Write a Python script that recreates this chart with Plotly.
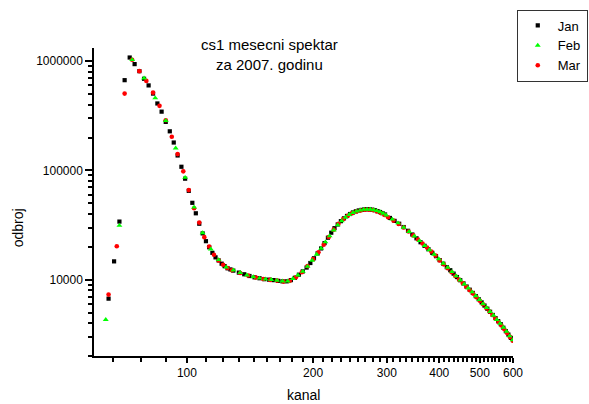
import math
import plotly.graph_objects as go

# Monthly cs1 spectra for 2007: channel ("kanal") vs. counts ("odbroj")

jan_kanal = (list(range(65, 130, 2)) + list(range(133, 298, 4)) + list(range(305, 598, 8)))
jan_odbroj = [
    6700, 14700, 34000, 670000, 1080000, 940000, 810000, 690000, 600000, 505000,
    410000, 345000, 278000, 228000, 180000, 137000, 108000, 84000, 65000, 50500,
    40500, 32500, 26500, 22500, 19800, 17600, 16000, 15000, 14000, 13300,
    12700, 12400, 12100,
    11600, 11200, 10800, 10500, 10300, 10100, 10000, 9900, 9750, 9650,
    9650, 9900, 10400, 11100, 11900, 12900, 14200, 15700, 17400, 19300,
    21600, 24200, 26900, 29600, 32000, 34300, 36400, 38300, 39900, 41200,
    42200, 43000, 43500, 43900, 44100, 44000, 43700, 43200, 42400, 41600,
    40600, 39500,
    36700, 34500, 32500, 30300, 28000, 25900, 23900, 22000, 20400, 19000,
    17600, 16400, 15100, 14000, 13000, 12200, 11350, 10560, 9880, 9240,
    8640, 8090, 7560, 7070, 6620, 6190, 5790, 5420, 5080, 4750,
    4450, 4170, 3910, 3630, 3370, 3140, 2930,
]

feb_kanal = (list(range(64, 130, 5)) + list(range(134, 300, 5)) + list(range(309, 600, 10)))
feb_odbroj = [
    4300, 31300, 1030000, 700000, 460000, 285000, 160000, 86000, 46000, 26800,
    19000, 15200, 13000, 12200,
    11600, 11000, 10600, 10300, 10100, 10000, 9850, 9700, 9700, 10200,
    11000, 11900, 13200, 15000, 17000, 19300, 22100, 25100, 28400, 31600,
    34500, 37100, 39300, 41000, 42300, 43200, 43800, 44000, 43900, 43500,
    42700, 41700, 40400, 38800,
    35700, 33000, 30100, 27500, 25000, 22700, 20500, 18700, 17000, 15500,
    14100, 12900, 11800, 10800, 9900, 9100, 8350, 7700, 7100, 6550,
    6000, 5550, 5100, 4700, 4300, 3980, 3650, 3350, 3050, 2800,
]

mar_kanal = (list(range(65, 129, 3)) + list(range(134, 297, 6)) + list(range(302, 600, 9)))
mar_odbroj = [
    7300, 20200, 505000, 1030000, 810000, 660000, 515000, 390000, 288000, 203000,
    141000, 98000, 66000, 45000, 33300, 24500, 20100, 16900, 15000, 13700,
    12800, 12200,
    11500, 10900, 10450, 10150, 9950, 9800, 9600, 9750, 10500, 11700,
    13300, 15400, 17800, 20900, 24600, 28700, 32500, 35800, 38500, 40600,
    42000, 43000, 43600, 43700, 43300, 42000, 40700, 39100,
    37200, 34700, 32300, 30000, 27600, 25400, 23300, 21400, 19700, 18100,
    16600, 15000, 13800, 12700, 11700, 10800, 10000, 9300, 8600, 8000,
    7450, 6900, 6400, 5950, 5500, 5100, 4750, 4400, 4100, 3800,
    3520, 3240, 2990, 2760,
]

x_major = [100, 200, 300, 400, 500, 600]
y_major = [10000, 100000, 1000000]
y_major_text = ["10000", "100000", "1000000"]

FONT = "Arial, Liberation Sans, sans-serif"

# eight minor ticks between neighbouring x labels
x_minor = [100 - k * 100 / 9 for k in range(1, 4)]
for a in x_major[:-1]:
    x_minor += [a + k * 100 / 9 for k in range(1, 9)]
y_minor = [m * 10 ** p for p in (3, 4, 5) for m in range(2, 10)]

fig = go.Figure()
fig.add_trace(go.Scatter(
    x=jan_kanal, y=jan_odbroj, mode="markers", name="Jan", legendrank=1,
    marker=dict(symbol="square", size=4.2, color="#000000", line=dict(width=0)),
))
fig.add_trace(go.Scatter(
    x=mar_kanal, y=mar_odbroj, mode="markers", name="Mar", legendrank=3,
    marker=dict(symbol="circle", size=4.6, color="#ff0000", line=dict(width=0)),
))
fig.add_trace(go.Scatter(
    x=feb_kanal, y=feb_odbroj, mode="markers", name="Feb", legendrank=2,
    marker=dict(symbol="triangle-up", size=5.2, color="#00ff00", line=dict(width=0)),
))

axis_common = dict(
    showgrid=False, zeroline=False, showline=True, linecolor="black",
    linewidth=1.5, mirror=False, ticks="outside", tickcolor="black",
    tickwidth=1.5, tickfont=dict(family=FONT, size=12, color="black"),
)

fig.update_xaxes(
    type="log", range=[math.log10(60), math.log10(600)],
    tickmode="array", tickvals=x_major, ticktext=[str(v) for v in x_major],
    ticklen=5,
    minor=dict(tickvals=x_minor, ticks="outside", ticklen=4, tickwidth=1.5,
               tickcolor="black", showgrid=False),
    **axis_common,
)
fig.update_yaxes(
    type="log", range=[math.log10(2000), math.log10(1.32e6)],
    tickmode="array", tickvals=y_major, ticktext=y_major_text,
    ticklen=7,
    minor=dict(tickvals=y_minor, ticks="outside", ticklen=4, tickwidth=1.5,
               tickcolor="black", showgrid=False),
    **axis_common,
)

fig.add_annotation(
    text="cs1 mesecni spektar<br>za 2007. godinu", xref="paper", yref="paper",
    x=0.42, y=0.98, xanchor="center", yanchor="middle", showarrow=False,
    font=dict(family=FONT, size=15, color="black"),
)
fig.add_annotation(
    text="kanal", xref="paper", yref="paper", x=0.5, y=-0.127,
    xanchor="center", yanchor="middle", showarrow=False,
    font=dict(family=FONT, size=14, color="black"),
)
fig.add_annotation(
    text="odbroj", xref="paper", yref="paper", x=-0.181, y=0.415,
    xanchor="center", yanchor="middle", textangle=-90, showarrow=False,
    font=dict(family=FONT, size=14, color="black"),
)

fig.update_layout(
    width=589, height=404,
    margin=dict(l=94, r=76, t=48, b=48, autoexpand=False),
    paper_bgcolor="white", plot_bgcolor="white",
    showlegend=True,
    legend=dict(
        x=1.009, y=1.125, xanchor="left", yanchor="top",
        bgcolor="white", bordercolor="#333333", borderwidth=1,
        font=dict(family=FONT, size=13, color="black"),
        itemwidth=30, tracegroupgap=0,
    ),
    font=dict(family=FONT, color="black"),
)

fig.write_html("out.html")
